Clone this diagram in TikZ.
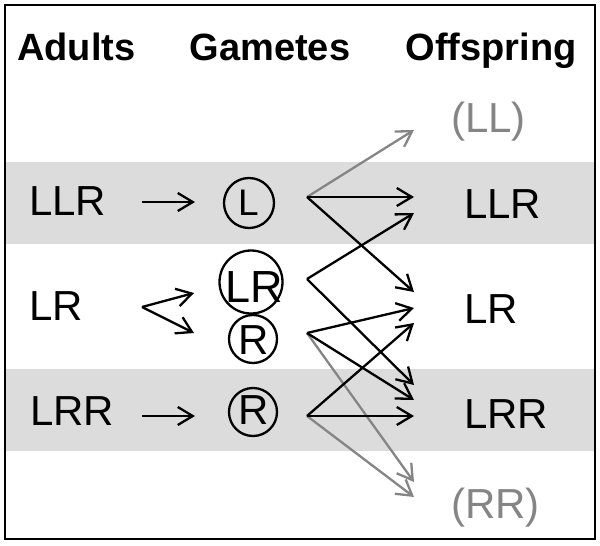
\documentclass[tikz,border=0pt]{standalone}
\usepackage{fontspec}
\setmainfont{Liberation Sans}
\usetikzlibrary{arrows.meta}
\definecolor{bandgray}{HTML}{DCDCDC}
\definecolor{linegray}{HTML}{858585}
\tikzset{
  hdr/.style={font=\fontsize{38}{44}\selectfont\bfseries, inner sep=0pt},
  lbl/.style={font=\fontsize{42}{50}\selectfont, inner sep=0pt, anchor=base west},
  glbl/.style={lbl, text=linegray},
  gcirc/.style={circle, draw, line width=2.3pt, inner sep=0pt},
  arr/.style={line width=2.3pt, -{Straight Barb[length=15pt,width=18pt,line width=2.3pt]}},
  garr/.style={arr, draw=linegray},
}
\begin{document}
\begin{tikzpicture}[x=1pt,y=-1pt]
\useasboundingbox (0,0) rectangle (600,546);
% bands
\fill[bandgray] (4,162) rectangle (596,244);
\fill[bandgray] (4,369) rectangle (596,451);
\draw[line width=2pt] (4.5,4.5) rectangle (595,539);
% headers
\node[hdr, anchor=base west] (hA) at (17,60) {Adults};
\node[hdr, anchor=base] (hG) at (270,60) {Gametes};
\node[hdr, anchor=base] (hO) at (491,60) {Offspring};
% adults
\node[lbl] (aLLR) at (29,215) {LLR};
\node[lbl] (aLR) at (29,320) {LR};
\node[lbl] (aLRR) at (30,425) {LRR};
% gametes
\node[gcirc, minimum size=50pt] (gL) at (249,203) {};
\node[font=\fontsize{37}{42}\selectfont, inner sep=0pt, anchor=base] (tL) at (248.5,215) {L};
\node[gcirc, minimum size=63pt] (gLR) at (251,282) {};
\node[font=\fontsize{45}{50}\selectfont, inner sep=0pt, anchor=base] (tLR) at (254,302) {LR};
\node[gcirc, minimum size=48pt] (gR1) at (253,339) {};
\node[font=\fontsize{42}{48}\selectfont, inner sep=0pt, anchor=base] (tR1) at (254,354) {R};
\node[gcirc, minimum size=48pt] (gR2) at (253,412) {};
\node[font=\fontsize{42}{48}\selectfont, inner sep=0pt, anchor=base] (tR2) at (254,424.5) {R};
% offspring
\node[glbl] (oLL) at (451,132) {(LL)};
\node[lbl] (oLLR) at (464,218) {LLR};
\node[lbl] (oLR) at (464,323) {LR};
\node[lbl] (oLRR) at (464,428) {LRR};
\node[glbl] (oRR) at (451,518) {(RR)};
% adult arrows
\coordinate (s1) at (142,202); \coordinate (e1) at (195,202);
\coordinate (s2) at (142,307); \coordinate (e2a) at (194,293); \coordinate (e2b) at (194,333);
\coordinate (s3) at (142,416); \coordinate (e3) at (195,416);
\draw[arr] (s1) -- (e1);
\draw[arr] (s2) -- (e2a);
\draw[arr] (s2) -- (e2b);
\draw[arr] (s3) -- (e3);
% gamete origins
\coordinate (pL) at (307,197);
\coordinate (pLR) at (307,279);
\coordinate (pR1) at (307,333);
\coordinate (pR2) at (307,416);
% offspring targets
\coordinate (tLL) at (414,130);
\coordinate (tLLRa) at (414,197);
\coordinate (tLLRb) at (414,213);
\coordinate (tLRa) at (414,292);
\coordinate (tLRb) at (414,308);
\coordinate (tLRc) at (414,323);
\coordinate (tLRRa) at (414,385);
\coordinate (tLRRb) at (414,400);
\coordinate (tLRRc) at (414,416);
\coordinate (tRRa) at (414,482);
\coordinate (tRRb) at (414,497);
% gray crosses
\draw[garr] (pL) -- (tLL);
\draw[garr] (pR1) -- (tRRa);
\draw[garr] (pR2) -- (tRRb);
% black crosses
\draw[arr] (pL) -- (tLLRa);
\draw[arr] (pL) -- (tLRa);
\draw[arr] (pLR) -- (tLLRb);
\draw[arr] (pLR) -- (tLRRa);
\draw[arr] (pR1) -- (tLRb);
\draw[arr] (pR1) -- (tLRRb);
\draw[arr] (pR2) -- (tLRc);
\draw[arr] (pR2) -- (tLRRc);
\end{tikzpicture}
\end{document}
